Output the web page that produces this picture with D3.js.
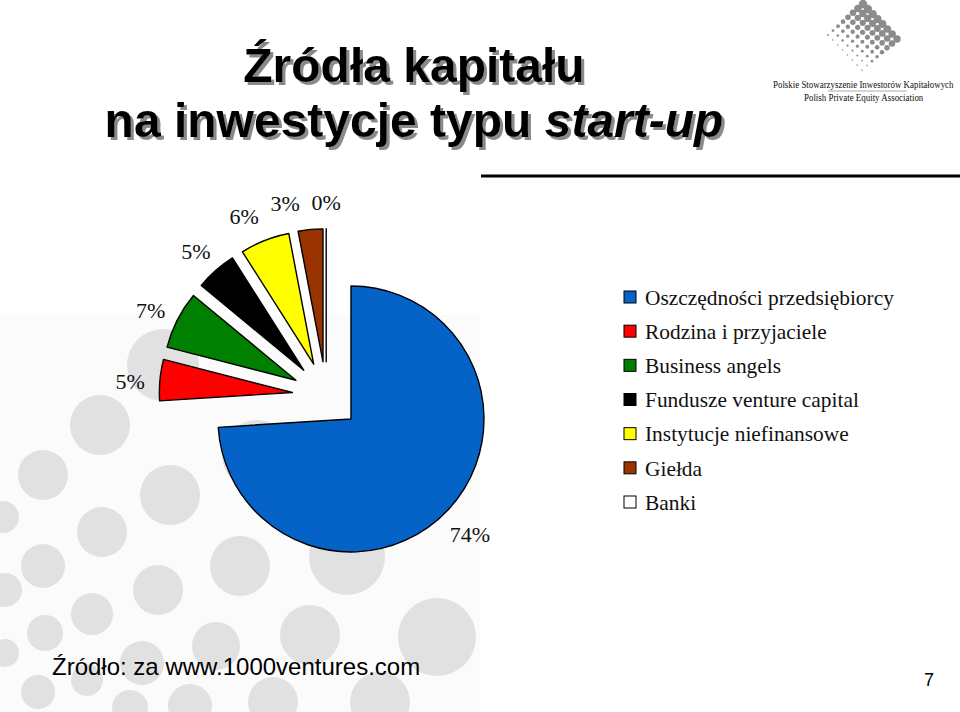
<!DOCTYPE html>
<html>
<head>
<meta charset="utf-8">
<script src="https://cdn.jsdelivr.net/npm/d3@7"></script>
<style>
  html, body { margin: 0; padding: 0; background: #ffffff; }
  svg { display: block; }
</style>
</head>
<body>
<svg id="chart" width="960" height="712"></svg>
<script>
// ---- Data ----
const categories = [
  "Oszczędności przedsiębiorcy",
  "Rodzina i przyjaciele",
  "Business angels",
  "Fundusze venture capital",
  "Instytucje niefinansowe",
  "Giełda",
  "Banki"
];
const values = [74, 5, 7, 5, 6, 3, 0];
const valueLabels = ["74%", "5%", "7%", "5%", "6%", "3%", "0%"];
const colors = ["#0563C8", "#FF0000", "#008000", "#000000", "#FFFF00", "#993300", "#FFFFFF"];
const titleLine1 = "Źródła kapitału";
const titleLine2a = "na inwestycje typu ";
const titleLine2b = "start-up";
const sourceText = "Źródło: za www.1000ventures.com";
const pageNumber = "7";
const logoLine1 = "Polskie Stowarzyszenie Inwestorów Kapitałowych";
const logoLine2 = "Polish Private Equity Association";

// ---- Decorative background dots (slide template) ----
const bgDots = [
  [163,365,36],[100,425,30],[43,475,25],[170,495,30],[257,455,35],[3,517,16],
  [102,532,25],[43,566,22],[240,566,30],[347,557,38],[5,590,17],[158,590,25],
  [92,614,21],[45,633,18],[5,653,14],[216,646,24],[310,635,30],[437,637,39],
  [142,663,22],[87,680,16],[38,692,17],[130,708,18],[190,706,22],[273,702,25],[380,702,30]
];

const svg = d3.select("#chart");

// shadow filter for title
const defs = svg.append("defs");
const flt = defs.append("filter").attr("id", "shadow").attr("x", "-5%").attr("y", "-20%").attr("width", "115%").attr("height", "150%");
flt.append("feDropShadow").attr("dx", 3).attr("dy", 3).attr("stdDeviation", 0.4)
  .attr("flood-color", "#8a8a8a").attr("flood-opacity", 1);

// background tint + dots
svg.append("rect").attr("x", 0).attr("y", 315).attr("width", 480).attr("height", 397).attr("fill", "#fbfbfb");
svg.append("g").selectAll("circle").data(bgDots).join("circle")
  .attr("cx", d => d[0]).attr("cy", d => d[1]).attr("r", d => d[2])
  .attr("fill", "#e1e1e1");

// ---- Title with shadow ----
const titleG = svg.append("g").attr("font-family", "'Liberation Sans', Arial, sans-serif")
  .attr("font-weight", "bold").attr("font-size", 48).attr("text-anchor", "middle")
  .attr("filter", "url(#shadow)");
titleG.append("text").attr("x", 414).attr("y", 82).attr("fill", "#000").text(titleLine1);
const t2 = titleG.append("text").attr("x", 414).attr("y", 137).attr("fill", "#000");
t2.append("tspan").text(titleLine2a);
t2.append("tspan").attr("font-style", "italic").text(titleLine2b);

// ---- Logo (top right) ----
const logo = svg.append("g");
const vLeft = [828, 35], vTop = [863, 4], vBottom = [862, 70];
const nGrid = 7;
for (let i = 0; i <= nGrid; i++) {
  for (let j = 0; j <= nGrid; j++) {
    const x = vLeft[0] + i * (vTop[0] - vLeft[0]) / nGrid + j * (vBottom[0] - vLeft[0]) / nGrid;
    const y = vLeft[1] + i * (vTop[1] - vLeft[1]) / nGrid + j * (vBottom[1] - vLeft[1]) / nGrid;
    const r = 0.9 + i * 0.48 - j * 0.08;
    logo.append("circle").attr("cx", x).attr("cy", y).attr("r", Math.max(0.8, r)).attr("fill", "#8c8c8c");
  }
}
logo.append("text").attr("transform", "translate(773,88) scale(1,1.25)")
  .attr("font-family", "'Liberation Serif', 'Times New Roman', serif")
  .attr("font-size", 8.9).attr("fill", "#111")
  .text(logoLine1);
logo.append("line").attr("x1", 828).attr("x2", 907).attr("y1", 91).attr("y2", 91).attr("stroke", "#999").attr("stroke-width", 0.8);
logo.append("text").attr("transform", "translate(804,101) scale(1,1.25)")
  .attr("font-family", "'Liberation Serif', 'Times New Roman', serif")
  .attr("font-size", 8.9).attr("fill", "#111")
  .text(logoLine2);

// horizontal rule
svg.append("line").attr("x1", 481).attr("x2", 960).attr("y1", 176).attr("y2", 176)
  .attr("stroke", "#000").attr("stroke-width", 3);

// ---- Pie ----
const cx = 326.2, cy = 395.7;
const radius = 133, explode = 34, labelR = 197;
const pie = d3.pie().sort(null).value(d => d)(values);
const arc = d3.arc().innerRadius(0).outerRadius(radius);

const pieG = svg.append("g").attr("transform", `translate(${cx},${cy})`);
pieG.selectAll("path").data(pie).join("path")
  .attr("d", arc)
  .attr("transform", d => {
    const m = (d.startAngle + d.endAngle) / 2;
    return `translate(${explode * Math.sin(m)},${-explode * Math.cos(m)})`;
  })
  .attr("fill", (d, i) => colors[i])
  .attr("stroke", "#000")
  .attr("stroke-width", 1.4)
  .attr("stroke-linejoin", "round");

// labels with simple overlap avoidance
const labelPos = pie.map(d => {
  const m = (d.startAngle + d.endAngle) / 2;
  return { x: labelR * Math.sin(m), y: -labelR * Math.cos(m) };
});
const minGap = 41;
for (let i = labelPos.length - 2; i >= 1; i--) {
  const a = labelPos[i], b = labelPos[i + 1];
  if (Math.abs(a.y - b.y) < 20 && a.x > b.x - minGap) a.x = b.x - minGap;
}
pieG.selectAll("text").data(pie).join("text")
  .attr("x", (d, i) => labelPos[i].x)
  .attr("y", (d, i) => labelPos[i].y)
  .attr("dy", "0.52em")
  .attr("text-anchor", "middle")
  .attr("font-family", "'Liberation Serif', 'Times New Roman', serif")
  .attr("font-size", 22)
  .attr("fill", "#111")
  .text((d, i) => valueLabels[i]);

// ---- Legend ----
const legendY = d3.scalePoint().domain(categories).range([297, 502]);
const legend = svg.append("g");
const items = legend.selectAll("g").data(categories).join("g")
  .attr("transform", d => `translate(624,${legendY(d)})`);
items.append("rect").attr("x", 0).attr("y", -6).attr("width", 12).attr("height", 12)
  .attr("fill", (d, i) => colors[i]).attr("stroke", "#000").attr("stroke-width", 1);
items.append("text").attr("x", 21).attr("y", 0).attr("dy", "0.36em")
  .attr("font-family", "'Liberation Serif', 'Times New Roman', serif")
  .attr("font-size", 21.4).attr("fill", "#111")
  .text(d => d);

// ---- Footer ----
svg.append("text").attr("x", 52).attr("y", 675)
  .attr("font-family", "'Liberation Sans', Arial, sans-serif").attr("font-size", 24).attr("fill", "#000")
  .text(sourceText);
svg.append("text").attr("x", 929).attr("y", 686).attr("text-anchor", "middle")
  .attr("font-family", "'Liberation Sans', Arial, sans-serif").attr("font-size", 18).attr("fill", "#000")
  .text(pageNumber);
</script>
</body>
</html>
